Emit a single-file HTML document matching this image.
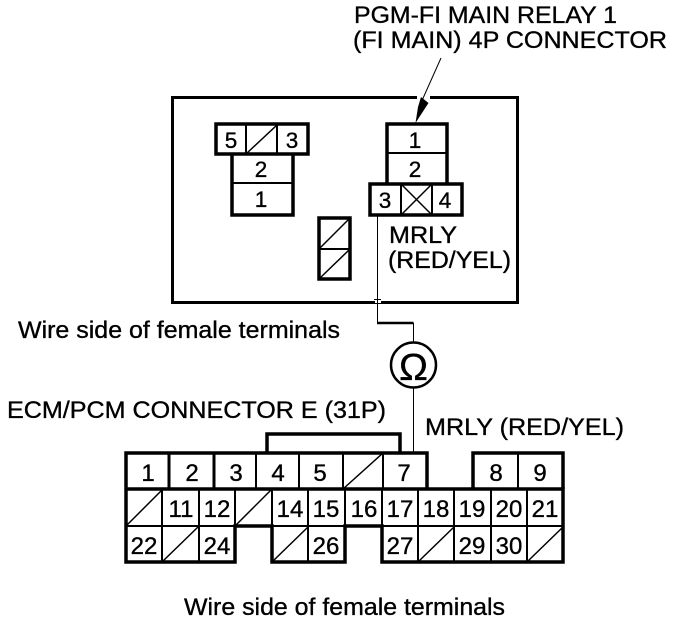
<!DOCTYPE html>
<html><head><meta charset="utf-8"><style>
html,body{margin:0;padding:0;background:#fff;width:688px;height:624px;overflow:hidden}
svg{display:block}
text{font-family:"Liberation Sans",sans-serif;fill:#000;stroke:#000;stroke-width:.35px;font-size:24px}
.n{text-anchor:middle;font-size:24px}
.s{text-anchor:middle;font-size:22.500px}
</style></head><body>
<svg width="688" height="624" viewBox="0 0 688 624" xmlns="http://www.w3.org/2000/svg">
<g fill="none" stroke="#000">
<!-- main box -->
<rect x="172.500" y="97.500" width="345" height="205" stroke-width="3"/>
<!-- box gaps at crossings -->
<path d="M375 302.500H381M417 97.500H430" stroke="#fff" stroke-width="4"/>
<!-- left connector -->
<g stroke-width="3.500">
<rect x="216" y="124" width="92" height="30"/>
<path d="M232 154V215H293V154"/>
</g>
<path d="M246 124V154M277 124V154M232 183H293" stroke-width="2"/>
<path d="M247 153L277 125" stroke-width="1.500"/>
<!-- right connector -->
<g stroke-width="3.500">
<path d="M387 184V124H447V184"/>
<rect x="370" y="184" width="92" height="31"/>
</g>
<path d="M387 153H447M401 184V215M432 184V215" stroke-width="2"/>
<path d="M401 184L432 215M432 184L401 215" stroke-width="1.500"/>
<!-- small connector -->
<rect x="319" y="218" width="31" height="61" stroke-width="3.500"/>
<path d="M319 249H350" stroke-width="2"/>
<path d="M320 248L349 219M320 278L349 250" stroke-width="1.500"/>
<!-- wires -->
<path d="M377.500 216V323" stroke-width="1"/>
<path d="M377 323H413.500" stroke-width="2.500"/>
<path d="M413.500 323V343M413.500 388V452" stroke-width="1"/>
<path d="M374 299.500H381M374 303.500H381" stroke-width="1"/>
<circle cx="413.500" cy="365" r="22.500" stroke-width="2.500"/>
<!-- leader arrow -->
<path d="M441 58L420 105" stroke-width="1"/>
<!-- ECM connector: outline -->
<g stroke-width="3.500">
<path d="M267 452V434H400V452"/>
<path d="M126 489V453H427V489M473 489V453H563V489"/>
<path d="M126 489H563V526M126 489V562H235V526H272V562H345V526H382V562H563V526"/>
</g>
<g stroke-width="2">
<path d="M169 453V489M214 453V489M256 453V489M299 453V489M343 453V489M383 453V489M518 453V489" />
<path d="M126 526H235M272 526H345M382 526H563" />
<path d="M162 489V562M199 489V562M235 489V526M272 489V526M308 489V562M345 489V526M382 489V526M418 489V562M454 489V562M491 489V562M527 489V562"/>
</g>
<path d="M169 453V489M214 453V489" stroke-width="3"/>
<g stroke-width="1.500">
<path d="M343 489L383 453M127 525L162 490M236 525L271 490M163 561L198 527M273 561L308 527M419 561L454 527M528 561L563 527"/>
</g>
</g>
<!-- arrow head -->
<polygon points="415.500,123 418,107 421,97 428.500,103" fill="#000"/>
<!-- omega -->
<text x="413.500" y="380" text-anchor="middle" style="font-size:38px" textLength="29" lengthAdjust="spacingAndGlyphs">Ω</text>
<!-- labels -->
<text x="354" y="23" textLength="263" lengthAdjust="spacingAndGlyphs">PGM-FI MAIN RELAY 1</text>
<text x="353" y="48" textLength="314" lengthAdjust="spacingAndGlyphs">(FI MAIN) 4P CONNECTOR</text>
<text x="389" y="243" textLength="68" lengthAdjust="spacingAndGlyphs">MRLY</text>
<text x="388" y="268" textLength="123" lengthAdjust="spacingAndGlyphs">(RED/YEL)</text>
<text x="18" y="338" textLength="322" lengthAdjust="spacingAndGlyphs">Wire side of female terminals</text>
<text x="7" y="418" textLength="379" lengthAdjust="spacingAndGlyphs">ECM/PCM CONNECTOR E (31P)</text>
<text x="425" y="435" textLength="199" lengthAdjust="spacingAndGlyphs">MRLY (RED/YEL)</text>
<text x="184" y="615" textLength="321" lengthAdjust="spacingAndGlyphs">Wire side of female terminals</text>
<!-- left connector numbers -->
<text class="s" x="231" y="148">5</text><text class="s" x="292" y="148">3</text>
<text class="s" x="261" y="177">2</text><text class="s" x="261" y="207">1</text>
<!-- right numbers -->
<text class="s" x="415" y="148">1</text><text class="s" x="415" y="177">2</text>
<text class="s" x="385" y="208">3</text><text class="s" x="445" y="208">4</text>
<!-- ECM row 1 -->
<text class="n" x="148" y="481">1</text><text class="n" x="192" y="481">2</text><text class="n" x="236" y="481">3</text><text class="n" x="278" y="481">4</text><text class="n" x="320" y="481">5</text><text class="n" x="404" y="481">7</text><text class="n" x="496" y="481">8</text><text class="n" x="540" y="481">9</text>
<!-- row 2 -->
<text class="n" x="181" y="517">11</text><text class="n" x="217" y="517">12</text><text class="n" x="290" y="517">14</text><text class="n" x="326" y="517">15</text><text class="n" x="364" y="517">16</text><text class="n" x="400" y="517">17</text><text class="n" x="436" y="517">18</text><text class="n" x="472" y="517">19</text><text class="n" x="509" y="517">20</text><text class="n" x="545" y="517">21</text>
<!-- row 3 -->
<text class="n" x="144" y="554">22</text><text class="n" x="217" y="554">24</text><text class="n" x="326" y="554">26</text><text class="n" x="400" y="554">27</text><text class="n" x="472" y="554">29</text><text class="n" x="509" y="554">30</text>
</svg>
</body></html>
